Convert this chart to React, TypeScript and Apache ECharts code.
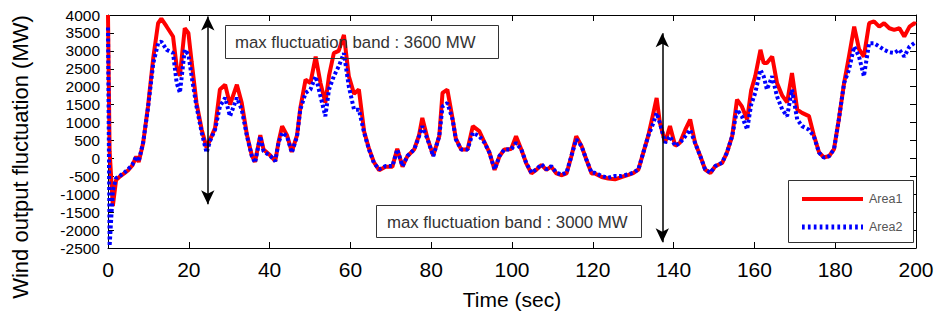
import React, { useEffect, useRef } from "react";
import * as echarts from "echarts";

const FONT = "'Liberation Sans', Arial, Helvetica, sans-serif";

// time (sec)
const time = [
  0, 0.4, 1.2, 2, 3, 4, 5, 6, 7, 7.6, 8.7, 9.9, 11.2, 12.4, 13.2, 14.5, 16.1, 17, 17.8, 19,
  19.9, 20.7, 21.9, 23.2, 24.4, 25.3, 26.5, 27.7, 29, 30.2, 31.9, 33.1, 34.4, 35.6, 36.4, 37.7, 38.5, 40.2, 41.4, 42.2,
  43.1, 44.3, 45.5, 46.8, 47.6, 48.9, 50.1, 51.4, 52.6, 53.8, 54.7, 55.9, 57.1, 58.4, 59.6, 60.9, 62.1, 63.4, 64.6, 65.8,
  67.1, 68.7, 70.4, 71.6, 72.9, 74.1, 75.8, 77, 77.8, 79.1, 80.5, 82, 82.8, 84, 85.3, 86.1, 87.4, 89, 90.3, 91.9,
  93.2, 94.4, 95.7, 96.9, 98.1, 99.8, 101, 102.3, 103.5, 104.8, 106, 107.3, 108.5, 109.7, 111, 112.2, 113.5, 114.7, 115.9, 117.2,
  118.4, 119.7, 120.5, 122.2, 123.8, 125.5, 127.1, 128.8, 130, 131.3, 132.5, 133.7, 135, 135.8, 136.6, 137.9, 139.1, 140.4, 141.6, 142.9,
  144.1, 145.3, 146.6, 147.8, 149.1, 150.3, 152, 153.2, 154.5, 155.7, 156.9, 158.2, 159.2, 160.2, 161.5, 162.3, 163.1, 164.4, 165.6, 166.9,
  168.1, 169.3, 170.6, 171.8, 173.5, 174.7, 176, 177.2, 178.5, 179.7, 180.9, 182.2, 183.4, 184.7, 185.9, 187.1, 188.4, 189.6, 190.9, 192.1,
  193.4, 194.6, 195.9, 197.1, 198.4, 199.6, 200,
];

// Area1 (MW)
const area1 = [
  4000, 200, -1330, -600, -500, -420, -330, -200, 50, -100, 430, 1450, 2800, 3770, 3900, 3680, 3400, 2560, 2300, 3630,
  3500, 2700, 1550, 800, 300, 530, 850, 1920, 2055, 1500, 2055, 1550, 650, 80, -100, 650, 250, 80, -80, 450,
  900, 650, 180, 650, 1400, 2195, 2100, 2840, 2100, 1550, 2300, 2935, 3000, 3445, 2300, 1800, 1920, 750, 270, -100,
  -330, -230, -230, 270, -230, 60, 250, 650, 1130, 550, 80, 620, 1825, 1920, 1100, 550, 250, 250, 900, 760,
  450, 170, -320, 60, 250, 260, 620, 250, -130, -420, -320, -180, -320, -230, -420, -470, -420, 60, 620, 350,
  -30, -420, -420, -520, -560, -585, -520, -460, -410, -310, 160, 620, 1270, 1685, 1000, 440, 900, 350, 440, 800,
  1085, 440, 70, -310, -410, -220, -130, 160, 620, 1640, 1450, 1085, 1900, 2290, 3030, 2660, 2660, 2840, 2100, 1750,
  1560, 2380, 1360, 1270, 1180, 650, 170, 30, 60, 260, 1090, 2100, 2840, 3675, 3050, 2840, 3770, 3820, 3675, 3770,
  3630, 3585, 3630, 3400, 3675, 3770, 3750,
];

// Area2 (MW)
const area2 = [
  3650, -2450, -900, -550, -480, -400, -300, -180, 60, -80, 445, 1400, 2650, 3210, 3260, 3030, 2940, 2100, 1830, 3030,
  2900, 2290, 1450, 715, 160, 500, 800, 1450, 1690, 1175, 1690, 1360, 620, 65, -120, 620, 200, 65, -75, 435,
  715, 620, 160, 620, 1360, 1825, 1920, 2290, 1730, 1175, 1920, 2290, 2565, 2935, 2010, 1360, 1360, 715, 250, -120,
  -305, -215, -215, 250, -215, 65, 250, 620, 900, 530, 65, 620, 1450, 1545, 1085, 530, 250, 250, 715, 620,
  435, 160, -305, 65, 250, 250, 435, 250, -120, -400, -305, -165, -305, -215, -400, -445, -400, 65, 530, 345,
  -30, -400, -400, -490, -540, -490, -490, -445, -400, -305, 160, 620, 990, 1270, 990, 435, 620, 345, 435, 620,
  800, 435, 65, -305, -400, -215, -120, 160, 620, 1360, 1175, 805, 1500, 1825, 2470, 2290, 1920, 2290, 1730, 1360,
  1175, 1920, 1085, 900, 800, 620, 160, 20, 65, 250, 1085, 2100, 2470, 3120, 2840, 2290, 3215, 3215, 3120, 3030,
  2960, 2940, 3030, 2840, 3120, 3215, 3200,
];

const xTicks = { min: 0, max: 200, interval: 20 };
const yTicks = { min: -2500, max: 4000, interval: 500 };

const seriesNames = ["Area1", "Area2"];
const bandLabels = ["max fluctuation band : 3600 MW", "max fluctuation band : 3000 MW"];
// arrow ends [time, MW]
const band1 = [[24.7, 3960], [24.7, -1280]];
const band2 = [[137.2, 3490], [137.2, -2340]];

export default function App() {
  const ref = useRef<HTMLDivElement>(null);
  useEffect(() => {
    document.body.style.margin = "0";
    const chart = echarts.init(ref.current!, undefined, { renderer: "svg" });
    const axisCommon = {
      axisLine: { show: true, onZero: false, lineStyle: { color: "#000", width: 1 } },
      axisTick: { show: true, inside: true, length: 6, lineStyle: { color: "#000" } },
      splitLine: { show: false },
    };
    const option: any = {
      animation: false,
      backgroundColor: "#fff",
      grid: { left: 108, right: 24, top: 15, bottom: 74, containLabel: false },
      xAxis: [
        {
          type: "value",
          ...xTicks,
          position: "bottom",
          ...axisCommon,
          axisLabel: { color: "#000", fontSize: 21, fontFamily: FONT, margin: 11 },
          name: "Time (sec)",
          nameLocation: "middle",
          nameGap: 41,
          nameTextStyle: { color: "#000", fontSize: 21, fontFamily: FONT },
        },
        {
          type: "value",
          ...xTicks,
          position: "top",
          ...axisCommon,
          axisLabel: { show: false },
        },
      ],
      yAxis: [
        {
          type: "value",
          ...yTicks,
          position: "left",
          ...axisCommon,
          axisLabel: {
            color: "#000",
            fontSize: 15.5,
            lineHeight: 16,
            fontFamily: FONT,
            margin: 8,
            interval: 0,
            showMinLabel: true,
            showMaxLabel: true,
            hideOverlap: false,
            formatter: (v: number) => String(v),
          },
        },
        {
          type: "value",
          ...yTicks,
          position: "right",
          ...axisCommon,
          axisLabel: { show: false },
        },
      ],
      series: [
        {
          name: seriesNames[0],
          type: "line",
          symbol: "none",
          data: time.map((t, i) => [t, area1[i]]),
          lineStyle: { color: "#ff0000", width: 4, cap: "butt" },
          itemStyle: { color: "#ff0000" },
          z: 2,
          markLine: {
            silent: true,
            symbol: ["arrow", "arrow"],
            symbolSize: [10, 14],
            label: { show: false },
            lineStyle: { color: "#000", width: 1.5, type: "solid" },
            itemStyle: { color: "#000" },
            data: [
              [{ coord: band1[0] }, { coord: band1[1] }],
              [{ coord: band2[0] }, { coord: band2[1] }],
            ],
          },
        },
        {
          name: seriesNames[1],
          type: "line",
          symbol: "none",
          data: time.map((t, i) => [t, area2[i]]),
          lineStyle: { color: "#0000ff", width: 4, type: [3, 2.5], cap: "butt" },
          itemStyle: { color: "#0000ff" },
          z: 3,
        },
      ],
      graphic: [
        {
          type: "text",
          x: 20,
          y: 157,
          rotation: Math.PI / 2,
          style: {
            text: "Wind output fluctuation (MW)",
            fill: "#000",
            font: `22px ${FONT}`,
            align: "center",
            verticalAlign: "middle",
          },
        },
        {
          type: "rect",
          shape: { x: 225.5, y: 25.5, width: 273, height: 33 },
          style: { fill: "none", stroke: "#333", lineWidth: 1 },
          z: 10,
        },
        {
          type: "text",
          x: 235,
          y: 42,
          style: { text: bandLabels[0], fill: "#333", font: `16.8px ${FONT}`, verticalAlign: "middle" },
          z: 10,
        },
        {
          type: "rect",
          shape: { x: 376.5, y: 205.5, width: 265, height: 32 },
          style: { fill: "none", stroke: "#333", lineWidth: 1 },
          z: 10,
        },
        {
          type: "text",
          x: 387,
          y: 222,
          style: { text: bandLabels[1], fill: "#333", font: `16.8px ${FONT}`, verticalAlign: "middle" },
          z: 10,
        },
        // legend
        {
          type: "rect",
          shape: { x: 788.5, y: 180.5, width: 125, height: 62 },
          style: { fill: "#fff", stroke: "#333", lineWidth: 1 },
          z: 20,
        },
        {
          type: "line",
          shape: { x1: 802, y1: 199, x2: 863, y2: 199 },
          style: { stroke: "#ff0000", lineWidth: 4 },
          z: 21,
        },
        {
          type: "line",
          shape: { x1: 802, y1: 227, x2: 863, y2: 227 },
          style: { stroke: "#0000ff", lineWidth: 5, lineDash: [2.7, 3.2] },
          z: 21,
        },
        {
          type: "text",
          x: 869,
          y: 199,
          style: { text: seriesNames[0], fill: "#555", font: `12.5px ${FONT}`, verticalAlign: "middle" },
          z: 21,
        },
        {
          type: "text",
          x: 869,
          y: 227,
          style: { text: seriesNames[1], fill: "#555", font: `12.5px ${FONT}`, verticalAlign: "middle" },
          z: 21,
        },
      ],
    };
    chart.setOption(option);
    return () => chart.dispose();
  }, []);
  return <div ref={ref} style={{ width: 940, height: 322 }} />;
}
